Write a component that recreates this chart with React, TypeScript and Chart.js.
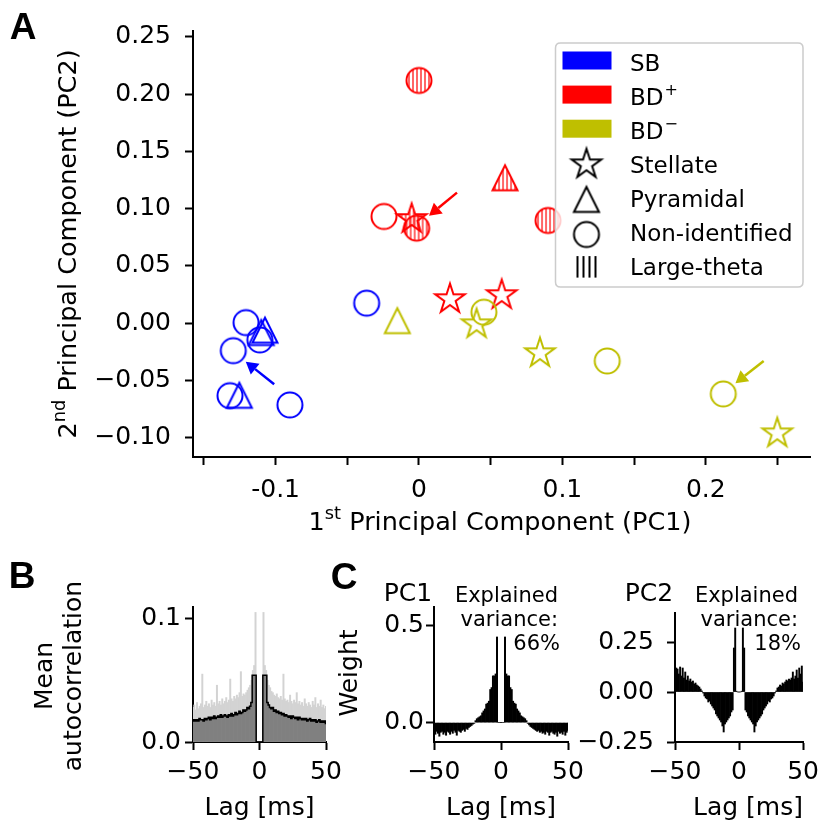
import React, { useEffect, useRef } from "react";
import { Chart, registerables } from "chart.js";

Chart.register(...registerables);

const FONT = "'DejaVu Sans', sans-serif";
const BOLD_FONT = "'Liberation Sans', Arial, sans-serif";
const BLUE = "#0000ff";
const RED = "#ff0000";
const OLIVE = "#bfbf00";

// ---------------- Panel A : PCA scatter ----------------
const SB_CIRCLE_X = [-0.0365, -0.1206, -0.111, -0.1295, -0.1318, -0.09];
const SB_CIRCLE_Y = [0.0175, 0.0005, -0.0146, -0.024, -0.0633, -0.0714];
const SB_TRIANGLE_X = [-0.1074, -0.11, -0.1253];
const SB_TRIANGLE_Y = [-0.0061, -0.0082, -0.063];

const BDP_CIRCLE_X = [-0.0244];
const BDP_CIRCLE_Y = [0.0932];
const BDP_STAR_X = [0.0216, 0.0577];
const BDP_STAR_Y = [0.021, 0.0245];
const BDP_THETA_CIRCLE_X = [0.0, -0.0016, 0.09];
const BDP_THETA_CIRCLE_Y = [0.212, 0.083, 0.0897];
const BDP_THETA_STAR_X = [-0.0051];
const BDP_THETA_STAR_Y = [0.091];
const BDP_THETA_TRIANGLE_X = [0.06];
const BDP_THETA_TRIANGLE_Y = [0.127];

const BDM_CIRCLE_X = [0.0453, 0.1313, 0.2122];
const BDM_CIRCLE_Y = [0.0096, -0.033, -0.0618];
const BDM_STAR_X = [0.0402, 0.0844, 0.2499];
const BDM_STAR_Y = [-0.0009, -0.0262, -0.0962];
const BDM_TRIANGLE_X = [-0.0151];
const BDM_TRIANGLE_Y = [0.0022];

const ARROW_TAIL_X = [-0.101, 0.0265, 0.2404];
const ARROW_TAIL_Y = [-0.0534, 0.114, -0.033];
const ARROW_TIP_X = [-0.1208, 0.007, 0.2207];
const ARROW_TIP_Y = [-0.0336, 0.0939, -0.0525];
const ARROW_COLORS = [BLUE, RED, OLIVE];

const A_X_MIN = -0.1576;
const A_X_MAX = 0.2727;
const A_Y_MIN = -0.1169;
const A_Y_MAX = 0.2552;
const A_X_TICKS = [-0.15, -0.1, -0.05, 0, 0.05, 0.1, 0.15, 0.2, 0.25];
const A_X_TICK_LABELS = ["", "-0.1", "", "0", "", "0.1", "", "0.2", ""];
const A_Y_TICKS = [-0.1, -0.05, 0, 0.05, 0.1, 0.15, 0.2, 0.25];
const A_Y_TICK_LABELS = ["\u22120.10", "\u22120.05", "0.00", "0.05", "0.10", "0.15", "0.20", "0.25"];

const LEGEND_LABELS = ["SB", "BD", "BD", "Stellate", "Pyramidal", "Non-identified", "Large-theta"];
const LEGEND_SUPERSCRIPTS = ["", "+", "\u2212", "", "", "", ""];
const LEGEND_PATCH_COLORS = [BLUE, RED, OLIVE];

// ---------------- Panels B, C : lag series (1 ms bins) ----------------
const LAGS = [
  -50, -49, -48, -47, -46, -45, -44, -43, -42, -41,
  -40, -39, -38, -37, -36, -35, -34, -33, -32, -31,
  -30, -29, -28, -27, -26, -25, -24, -23, -22, -21,
  -20, -19, -18, -17, -16, -15, -14, -13, -12, -11,
  -10, -9, -8, -7, -6, -5, -4, -3, -2, -1,
  0,
  1, 2, 3, 4, 5, 6, 7, 8, 9, 10,
  11, 12, 13, 14, 15, 16, 17, 18, 19, 20,
  21, 22, 23, 24, 25, 26, 27, 28, 29, 30,
  31, 32, 33, 34, 35, 36, 37, 38, 39, 40,
  41, 42, 43, 44, 45, 46, 47, 48, 49, 50,
];
const LAG_TICKS = [-50, 0, 50];
const LAG_TICK_LABELS = ["\u221250", "0", "50"];

const B_MEAN = [
  0.017, 0.018, 0.017, 0.018, 0.017, 0.019, 0.018, 0.018, 0.017, 0.019,
  0.018, 0.019, 0.02, 0.018, 0.02, 0.019, 0.021, 0.019, 0.02, 0.021,
  0.02, 0.022, 0.02, 0.021, 0.022, 0.021, 0.02, 0.022, 0.021, 0.023,
  0.021, 0.022, 0.024, 0.022, 0.023, 0.025, 0.023, 0.024, 0.026, 0.025,
  0.026, 0.028, 0.027, 0.029, 0.032, 0.054, 0.054, 0.054, 0, 0,
  0,
  0, 0, 0.054, 0.054, 0.054, 0.032, 0.03, 0.028, 0.027, 0.028,
  0.025, 0.026, 0.024, 0.025, 0.023, 0.024, 0.022, 0.023, 0.021, 0.022,
  0.021, 0.02, 0.021, 0.019, 0.021, 0.02, 0.019, 0.02, 0.018, 0.02,
  0.019, 0.018, 0.019, 0.018, 0.019, 0.017, 0.018, 0.019, 0.017, 0.018,
  0.017, 0.018, 0.016, 0.017, 0.018, 0.016, 0.017, 0.016, 0.017, 0.015,
];
const B_UPPER = [
  0.028, 0.03, 0.026, 0.032, 0.027, 0.029, 0.031, 0.055, 0.028, 0.03,
  0.033, 0.029, 0.031, 0.028, 0.034, 0.03, 0.032, 0.029, 0.046, 0.031,
  0.033, 0.03, 0.035, 0.031, 0.033, 0.036, 0.032, 0.034, 0.051, 0.035,
  0.033, 0.037, 0.035, 0.038, 0.036, 0.04, 0.057, 0.037, 0.039, 0.038,
  0.04, 0.042, 0.044, 0.046, 0.05, 0.058, 0.062, 0.105, 0, 0,
  0,
  0, 0, 0.105, 0.062, 0.058, 0.05, 0.046, 0.044, 0.041, 0.04,
  0.038, 0.037, 0.039, 0.036, 0.035, 0.037, 0.034, 0.055, 0.035, 0.033,
  0.034, 0.032, 0.038, 0.033, 0.031, 0.034, 0.032, 0.04, 0.031, 0.033,
  0.03, 0.032, 0.029, 0.035, 0.031, 0.029, 0.032, 0.03, 0.028, 0.033,
  0.03, 0.036, 0.028, 0.031, 0.029, 0.034, 0.028, 0.03, 0.027, 0.029,
];
const PC1_WEIGHTS = [
  -0.05, -0.06, -0.045, -0.055, -0.07, -0.05, -0.045, -0.06, -0.05, -0.065,
  -0.045, -0.05, -0.06, -0.045, -0.055, -0.04, -0.05, -0.065, -0.04, -0.045,
  -0.05, -0.04, -0.035, -0.045, -0.03, -0.035, -0.025, -0.02, -0.015, -0.008,
  -0.004, 0.01, 0.02, 0.025, 0.03, 0.035, 0.05, 0.06, 0.07, 0.095,
  0.1, 0.11, 0.17, 0.18, 0.24, 0.24, 0.25, 0.44, 0, 0,
  0,
  0, 0, 0.44, 0.25, 0.24, 0.24, 0.18, 0.17, 0.11, 0.1,
  0.095, 0.07, 0.06, 0.05, 0.035, 0.03, 0.025, 0.02, 0.01, -0.004,
  -0.012, -0.02, -0.025, -0.03, -0.035, -0.04, -0.045, -0.04, -0.05, -0.045,
  -0.055, -0.05, -0.06, -0.045, -0.05, -0.065, -0.05, -0.045, -0.055, -0.06,
  -0.05, -0.07, -0.045, -0.055, -0.05, -0.06, -0.045, -0.065, -0.05, -0.04,
];
const PC2_WEIGHTS = [
  0.13, 0.12, 0.115, 0.09, 0.125, 0.08, 0.12, 0.07, 0.1, 0.06,
  0.08, 0.055, 0.065, 0.05, 0.055, 0.04, 0.045, 0.035, 0.03, 0.025,
  0.015, 0.005, -0.005, -0.02, -0.03, -0.035, -0.05, -0.045, -0.06, -0.07,
  -0.08, -0.09, -0.11, -0.12, -0.13, -0.14, -0.15, -0.17, -0.2, -0.16,
  -0.15, -0.14, -0.13, -0.12, -0.1, -0.09, 0.22, 0.32, 0.004, 0,
  0,
  0, 0.004, 0.32, 0.22, -0.09, -0.1, -0.12, -0.13, -0.14, -0.15,
  -0.16, -0.2, -0.17, -0.15, -0.14, -0.13, -0.12, -0.11, -0.09, -0.08,
  -0.07, -0.06, -0.045, -0.05, -0.035, -0.03, -0.02, -0.005, 0.005, 0.02,
  0.025, 0.035, 0.03, 0.045, 0.04, 0.05, 0.06, 0.055, 0.065, 0.06,
  0.07, 0.1, 0.065, 0.08, 0.11, 0.07, 0.12, 0.09, 0.13, 0.05,
];

const B_Y_TICKS = [0, 0.1];
const B_Y_LABELS = ["0.0", "0.1"];
const C1_Y_TICKS = [0, 0.5];
const C1_Y_LABELS = ["0.0", "0.5"];
const C2_Y_TICKS = [-0.25, 0, 0.25];
const C2_Y_LABELS = ["\u22120.25", "0.00", "0.25"];

// ---------------- markers ----------------
function shapePath(ctx: CanvasRenderingContext2D, shape: string, cx: number, cy: number) {
  ctx.beginPath();
  if (shape === "circle") {
    ctx.arc(cx, cy, 12.5, 0, Math.PI * 2);
  } else if (shape === "triangle") {
    const h = 12.5;
    ctx.moveTo(cx, cy - h);
    ctx.lineTo(cx - h, cy + h);
    ctx.lineTo(cx + h, cy + h);
    ctx.closePath();
  } else {
    const R = 15.5;
    const r = R * 0.381966;
    for (let i = 0; i < 10; i++) {
      const a = -Math.PI / 2 + (i * Math.PI) / 5;
      const rr = i % 2 === 0 ? R : r;
      const px = cx + rr * Math.cos(a);
      const py = cy + rr * Math.sin(a);
      if (i === 0) ctx.moveTo(px, py);
      else ctx.lineTo(px, py);
    }
    ctx.closePath();
  }
}

function makeMarker(shape: string, color: string, hatched: boolean): HTMLCanvasElement {
  const S = 40;
  const c = document.createElement("canvas");
  c.width = S;
  c.height = S;
  const ctx = c.getContext("2d") as CanvasRenderingContext2D;
  const cx = S / 2;
  const cy = S / 2;
  if (hatched) {
    ctx.save();
    shapePath(ctx, shape, cx, cy);
    ctx.clip();
    ctx.strokeStyle = color;
    ctx.lineWidth = 1.2;
    for (let x = cx - 18; x <= cx + 18; x += 4) {
      ctx.beginPath();
      ctx.moveTo(x, 0);
      ctx.lineTo(x, S);
      ctx.stroke();
    }
    ctx.restore();
  }
  shapePath(ctx, shape, cx, cy);
  ctx.strokeStyle = color;
  ctx.lineWidth = 2;
  ctx.lineJoin = "miter";
  ctx.stroke();
  return c;
}

const GROUPS = [
  { x: SB_CIRCLE_X, y: SB_CIRCLE_Y, shape: "circle", color: BLUE, hatched: false },
  { x: SB_TRIANGLE_X, y: SB_TRIANGLE_Y, shape: "triangle", color: BLUE, hatched: false },
  { x: BDM_TRIANGLE_X, y: BDM_TRIANGLE_Y, shape: "triangle", color: OLIVE, hatched: false },
  { x: BDM_CIRCLE_X, y: BDM_CIRCLE_Y, shape: "circle", color: OLIVE, hatched: false },
  { x: BDM_STAR_X, y: BDM_STAR_Y, shape: "star", color: OLIVE, hatched: false },
  { x: BDP_CIRCLE_X, y: BDP_CIRCLE_Y, shape: "circle", color: RED, hatched: false },
  { x: BDP_STAR_X, y: BDP_STAR_Y, shape: "star", color: RED, hatched: false },
  { x: BDP_THETA_STAR_X, y: BDP_THETA_STAR_Y, shape: "star", color: RED, hatched: true },
  { x: BDP_THETA_CIRCLE_X, y: BDP_THETA_CIRCLE_Y, shape: "circle", color: RED, hatched: true },
  { x: BDP_THETA_TRIANGLE_X, y: BDP_THETA_TRIANGLE_Y, shape: "triangle", color: RED, hatched: true },
];

const tickGrid = {
  display: true,
  offset: false,
  drawOnChartArea: false,
  drawTicks: true,
  tickLength: 8,
  tickWidth: 2,
  tickColor: "#000",
};
const blackBorder = { display: true, color: "#000", width: 2 };

const arrowPlugin = {
  id: "pcaArrows",
  afterDatasetsDraw(chart: any) {
    const { ctx } = chart;
    const xs = chart.scales.x;
    const ys = chart.scales.y;
    ARROW_TAIL_X.forEach((tx, i) => {
      const x0 = xs.getPixelForValue(tx);
      const y0 = ys.getPixelForValue(ARROW_TAIL_Y[i]);
      const x1 = xs.getPixelForValue(ARROW_TIP_X[i]);
      const y1 = ys.getPixelForValue(ARROW_TIP_Y[i]);
      const ang = Math.atan2(y1 - y0, x1 - x0);
      const headLen = 12;
      const headW = 7;
      const bx = x1 - headLen * Math.cos(ang);
      const by = y1 - headLen * Math.sin(ang);
      ctx.save();
      ctx.strokeStyle = ARROW_COLORS[i];
      ctx.fillStyle = ARROW_COLORS[i];
      ctx.lineWidth = 2.5;
      ctx.beginPath();
      ctx.moveTo(x0, y0);
      ctx.lineTo(bx, by);
      ctx.stroke();
      ctx.beginPath();
      ctx.moveTo(x1, y1);
      ctx.lineTo(bx + headW * Math.sin(ang), by - headW * Math.cos(ang));
      ctx.lineTo(bx - headW * Math.sin(ang), by + headW * Math.cos(ang));
      ctx.closePath();
      ctx.fill();
      ctx.restore();
    });
  },
};

function makeLegendPlugin() {
  const star = makeMarker("star", "#000", false);
  const tri = makeMarker("triangle", "#000", false);
  const circ = makeMarker("circle", "#000", false);
  return {
    id: "pcaLegend",
    afterDatasetsDraw(chart: any) {
      const ctx: CanvasRenderingContext2D = chart.ctx;
      ctx.save();
      const bx = 555.5, by = 43, bw = 247.5, bh = 244, r = 5;
      ctx.beginPath();
      ctx.moveTo(bx + r, by);
      ctx.lineTo(bx + bw - r, by);
      ctx.quadraticCurveTo(bx + bw, by, bx + bw, by + r);
      ctx.lineTo(bx + bw, by + bh - r);
      ctx.quadraticCurveTo(bx + bw, by + bh, bx + bw - r, by + bh);
      ctx.lineTo(bx + r, by + bh);
      ctx.quadraticCurveTo(bx, by + bh, bx, by + bh - r);
      ctx.lineTo(bx, by + r);
      ctx.quadraticCurveTo(bx, by, bx + r, by);
      ctx.closePath();
      ctx.fillStyle = "rgba(255,255,255,0.8)";
      ctx.fill();
      ctx.strokeStyle = "#cccccc";
      ctx.lineWidth = 1.5;
      ctx.stroke();

      const row0 = 62;
      const dy = 34.1;
      const mx = 586.5;
      LEGEND_LABELS.forEach((lab, i) => {
        const cy = row0 + i * dy;
        if (i < 3) {
          ctx.fillStyle = LEGEND_PATCH_COLORS[i];
          ctx.fillRect(562.5, cy - 10.5, 49, 18);
        } else if (i === 3) {
          ctx.drawImage(star, mx - 20, cy - 20);
        } else if (i === 4) {
          ctx.drawImage(tri, mx - 20, cy - 19);
        } else if (i === 5) {
          ctx.drawImage(circ, mx - 20, cy - 18);
        } else {
          ctx.strokeStyle = "#000";
          ctx.lineWidth = 2;
          [577.5, 583.5, 589.5, 595.5].forEach((lx) => {
            ctx.beginPath();
            ctx.moveTo(lx, cy - 10.5);
            ctx.lineTo(lx, cy + 11);
            ctx.stroke();
          });
        }
        ctx.fillStyle = "#000";
        ctx.font = `23px ${FONT}`;
        ctx.textBaseline = "alphabetic";
        ctx.textAlign = "left";
        ctx.fillText(lab, 630, cy + 8.5);
        const sup = LEGEND_SUPERSCRIPTS[i];
        if (sup) {
          const w = ctx.measureText(lab).width;
          ctx.font = `16px ${FONT}`;
          ctx.fillText(sup, 630 + w + 1, cy + 8.5 - 10);
        }
      });
      ctx.restore();
    },
  };
}

function configA(): any {
  return {
    type: "scatter",
    data: {
      datasets: GROUPS.map((g) => ({
        data: g.x.map((v, i) => ({ x: v, y: g.y[i] })),
        pointStyle: makeMarker(g.shape, g.color, g.hatched),
        pointRadius: 14,
        pointHoverRadius: 14,
        clip: false,
      })),
    },
    options: {
      animation: false,
      responsive: false,
      devicePixelRatio: 1,
      events: [],
      layout: { padding: { left: 0, top: 31, right: 16, bottom: 0 } },
      plugins: { legend: { display: false }, tooltip: { enabled: false } },
      scales: {
        x: {
          type: "linear",
          min: A_X_MIN,
          max: A_X_MAX,
          afterBuildTicks: (s: any) => {
            s.ticks = A_X_TICKS.map((v) => ({ value: v }));
          },
          afterFit: (s: any) => {
            s.height = 103;
          },
          ticks: {
            callback: (_v: any, i: number) => A_X_TICK_LABELS[i],
            font: { family: FONT, size: 25 },
            color: "#000",
            padding: 10,
            maxRotation: 0,
            minRotation: 0,
            autoSkip: false,
          },
          grid: tickGrid,
          border: blackBorder,
        },
        y: {
          type: "linear",
          min: A_Y_MIN,
          max: A_Y_MAX,
          afterBuildTicks: (s: any) => {
            s.ticks = A_Y_TICKS.map((v) => ({ value: v }));
          },
          afterFit: (s: any) => {
            s.width = 193;
          },
          ticks: {
            callback: (_v: any, i: number) => A_Y_TICK_LABELS[i],
            font: { family: FONT, size: 25 },
            color: "#000",
            padding: 14,
            autoSkip: false,
          },
          grid: tickGrid,
          border: blackBorder,
        },
      },
    },
    plugins: [arrowPlugin, makeLegendPlugin()],
  };
}

function smallConfig(p: {
  datasets: any[];
  yMin: number;
  yMax: number;
  yTicks: number[];
  yLabels: string[];
  yAxisWidth: number;
  padRight: number;
  yPad: number;
}): any {
  return {
    type: "bar",
    data: { datasets: p.datasets },
    options: {
      animation: false,
      responsive: false,
      devicePixelRatio: 1,
      events: [],
      layout: { padding: { left: 0, top: 22, right: p.padRight, bottom: 0 } },
      plugins: { legend: { display: false }, tooltip: { enabled: false } },
      scales: {
        x: {
          type: "linear",
          min: -50,
          max: 50,
          offset: false,
          afterBuildTicks: (s: any) => {
            s.ticks = LAG_TICKS.map((v) => ({ value: v }));
          },
          afterFit: (s: any) => {
            s.height = 83;
          },
          ticks: {
            callback: (_v: any, i: number) => LAG_TICK_LABELS[i],
            font: { family: FONT, size: 25 },
            color: "#000",
            padding: 7,
            maxRotation: 0,
            minRotation: 0,
            autoSkip: false,
          },
          grid: tickGrid,
          border: blackBorder,
        },
        y: {
          type: "linear",
          min: p.yMin,
          max: p.yMax,
          afterBuildTicks: (s: any) => {
            s.ticks = p.yTicks.map((v) => ({ value: v }));
          },
          afterFit: (s: any) => {
            s.width = p.yAxisWidth;
          },
          ticks: {
            callback: (_v: any, i: number) => p.yLabels[i],
            font: { family: FONT, size: 25 },
            color: "#000",
            padding: p.yPad,
            autoSkip: false,
          },
          grid: tickGrid,
          border: blackBorder,
        },
      },
    },
  };
}

const barDefaults = {
  type: "bar",
  barPercentage: 1,
  categoryPercentage: 1,
  grouped: false,
  borderWidth: 0,
};

function toXY(vals: number[]) {
  return LAGS.map((x, i) => ({ x, y: vals[i] }));
}

function configB(): any {
  return smallConfig({
    datasets: [
      {
        type: "line",
        data: toXY(B_MEAN),
        stepped: "middle",
        borderColor: "#000",
        borderWidth: 1.5,
        pointRadius: 0,
        fill: false,
        order: 0,
      },
      { ...barDefaults, data: toXY(B_MEAN), backgroundColor: "#808080", order: 1 },
      { ...barDefaults, data: toXY(B_UPPER), backgroundColor: "#d3d3d3", order: 2 },
    ],
    yMin: 0,
    yMax: 0.1094,
    yTicks: B_Y_TICKS,
    yLabels: B_Y_LABELS,
    yAxisWidth: 113,
    padRight: 34,
    yPad: 4,
  });
}

function configC1(): any {
  return smallConfig({
    datasets: [{ ...barDefaults, data: toXY(PC1_WEIGHTS), backgroundColor: "#000" }],
    yMin: -0.0997,
    yMax: 0.594,
    yTicks: C1_Y_TICKS,
    yLabels: C1_Y_LABELS,
    yAxisWidth: 104,
    padRight: 42,
    yPad: 2,
  });
}

function configC2(): any {
  return smallConfig({
    datasets: [{ ...barDefaults, data: toXY(PC2_WEIGHTS), backgroundColor: "#000" }],
    yMin: -0.25,
    yMax: 0.395,
    yTicks: C2_Y_TICKS,
    yLabels: C2_Y_LABELS,
    yAxisWidth: 105,
    padRight: 18,
    yPad: 13,
  });
}

function Txt(props: {
  x: number;
  y: number;
  size: number;
  rot?: number;
  align?: "left" | "center" | "right";
  bold?: boolean;
  family?: string;
  children: React.ReactNode;
}) {
  const { x, y, size, rot = 0, align = "center", bold = false, family = FONT, children } = props;
  const tx = align === "center" ? "-50%" : align === "right" ? "-100%" : "0%";
  return (
    <div
      style={{
        position: "absolute",
        left: x,
        top: y,
        fontSize: size,
        lineHeight: `${size}px`,
        fontFamily: family,
        fontWeight: bold ? "bold" : "normal",
        whiteSpace: "nowrap",
        color: "#000",
        transform: `translate(${tx}, -50%) rotate(${rot}deg)`,
        transformOrigin: align === "center" ? "50% 50%" : align === "right" ? "100% 50%" : "0% 50%",
      }}
    >
      {children}
    </div>
  );
}

const supStyle: React.CSSProperties = {
  fontSize: "0.7em",
  position: "relative",
  top: "-0.62em",
};

export default function App() {
  const aRef = useRef<HTMLCanvasElement>(null);
  const bRef = useRef<HTMLCanvasElement>(null);
  const c1Ref = useRef<HTMLCanvasElement>(null);
  const c2Ref = useRef<HTMLCanvasElement>(null);

  useEffect(() => {
    const charts: Chart[] = [];
    if (aRef.current) charts.push(new Chart(aRef.current, configA()));
    if (bRef.current) charts.push(new Chart(bRef.current, configB()));
    if (c1Ref.current) charts.push(new Chart(c1Ref.current, configC1()));
    if (c2Ref.current) charts.push(new Chart(c2Ref.current, configC2()));
    return () => charts.forEach((c) => c.destroy());
  }, []);

  return (
    <div
      style={{
        position: "absolute",
        left: 0,
        top: 0,
        width: 826,
        height: 825,
        background: "#fff",
        overflow: "hidden",
      }}
    >
      <canvas ref={aRef} width={826} height={560} style={{ position: "absolute", left: 0, top: 0 }} />
      <canvas ref={bRef} width={280} height={240} style={{ position: "absolute", left: 80, top: 585 }} />
      <canvas ref={c1Ref} width={280} height={240} style={{ position: "absolute", left: 330, top: 585 }} />
      <canvas ref={c2Ref} width={256} height={240} style={{ position: "absolute", left: 570, top: 585 }} />

      <Txt x={23} y={26} size={37} bold family={BOLD_FONT}>A</Txt>
      <Txt x={22} y={575} size={37} bold family={BOLD_FONT}>B</Txt>
      <Txt x={344} y={576} size={37} bold family={BOLD_FONT}>C</Txt>

      <Txt x={69} y={244} size={25.5} rot={-90}>
        2<span style={supStyle}>nd</span> Principal Component (PC2)
      </Txt>
      <Txt x={500} y={523} size={25.5}>
        1<span style={supStyle}>st</span> Principal Component (PC1)
      </Txt>

      <Txt x={43} y={676} size={25} rot={-90}>Mean</Txt>
      <Txt x={72} y={676} size={25} rot={-90}>autocorrelation</Txt>
      <Txt x={348} y={673} size={25} rot={-90}>Weight</Txt>

      <Txt x={259.5} y={806} size={25}>Lag [ms]</Txt>
      <Txt x={501} y={806} size={25}>Lag [ms]</Txt>
      <Txt x={748} y={806} size={25}>Lag [ms]</Txt>

      <Txt x={408} y={592} size={25}>PC1</Txt>
      <Txt x={649} y={592} size={25}>PC2</Txt>

      <Txt x={558} y={595} size={21} align="right">Explained</Txt>
      <Txt x={558} y={619} size={21} align="right">variance:</Txt>
      <Txt x={560} y={643} size={21} align="right">66%</Txt>
      <Txt x={798} y={595} size={21} align="right">Explained</Txt>
      <Txt x={798} y={619} size={21} align="right">variance:</Txt>
      <Txt x={801} y={643} size={21} align="right">18%</Txt>
    </div>
  );
}
